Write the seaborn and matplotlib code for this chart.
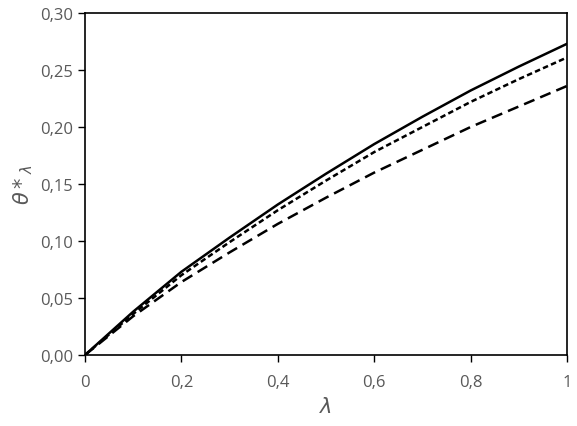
import matplotlib
import numpy as np
import pandas as pd
import seaborn as sns
import matplotlib.pyplot as plt
from matplotlib.ticker import FuncFormatter

sns.set_style("white")
plt.rcParams['font.family'] = ['Open Sans', 'DejaVu Sans']
plt.rcParams['figure.dpi'] = 100

lam = [0, 0.1, 0.2, 0.3, 0.4, 0.5, 0.6, 0.7, 0.8, 0.9, 1.0]
solid = [0, 0.038, 0.073, 0.103, 0.132, 0.159, 0.185, 0.209, 0.232, 0.253, 0.273]
dotted = [0, 0.036, 0.070, 0.099, 0.127, 0.153, 0.178, 0.200, 0.222, 0.242, 0.261]
dashed = [0, 0.034, 0.064, 0.090, 0.115, 0.138, 0.160, 0.180, 0.200, 0.218, 0.236]

data = pd.DataFrame({
    'lam': lam * 3,
    'theta': solid + dotted + dashed,
    'series': ['a'] * len(lam) + ['b'] * len(lam) + ['c'] * len(lam),
})

fig = plt.figure(figsize=(5.77, 4.27))
ax = fig.add_axes([0.1473, 0.1663, 0.8354, 0.8009])
sns.lineplot(data=data, x='lam', y='theta', style='series', color='black',
             dashes={'a': '', 'b': (2.2, 1.3), 'c': (4.5, 2.5)},
             linewidth=1.8, legend=False, ax=ax)

grey = '#595959'
ax.set_xlim(0, 1)
ax.set_ylim(0, 0.30)
ax.set_xticks([0, 0.2, 0.4, 0.6, 0.8, 1.0])
ax.set_yticks(np.arange(0, 0.301, 0.05))
ax.xaxis.set_major_formatter(FuncFormatter(lambda v, p: '0' if v == 0 else ('1' if v == 1 else f'{v:.1f}'.replace('.', ','))))
ax.yaxis.set_major_formatter(FuncFormatter(lambda v, p: f'{v:.2f}'.replace('.', ',')))
ax.tick_params(axis='both', direction='out', length=5, width=1, color='black',
               labelcolor=grey, labelsize=12, bottom=True, left=True)
ax.tick_params(axis='x', pad=9)
for s in ax.spines.values():
    s.set_color('black')
    s.set_linewidth(1.2)
ax.set_xlabel(r'$\lambda$', color=grey, fontsize=15, labelpad=4)
ax.set_ylabel(r'$\theta*_{\lambda}$', color=grey, fontsize=15, labelpad=4)

fig.savefig('out.png', dpi=100)
